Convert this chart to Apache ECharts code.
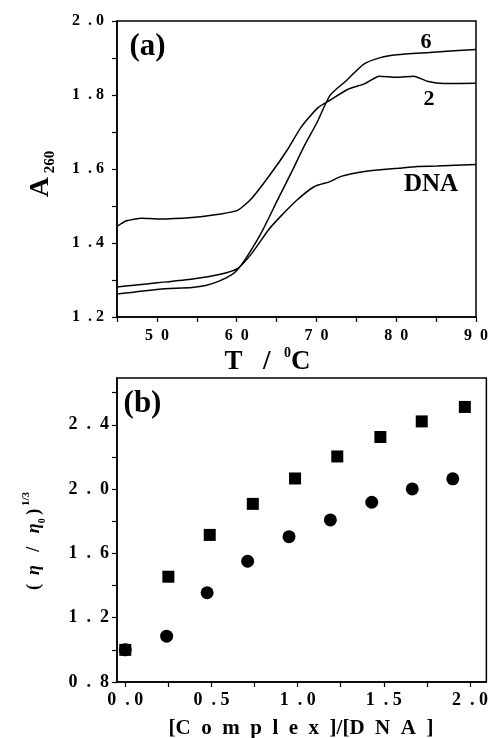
<!DOCTYPE html>
<html>
<head>
<meta charset="utf-8">
<script src="https://cdn.jsdelivr.net/npm/echarts@6/dist/echarts.min.js"></script>
<style>
html,body{margin:0;padding:0;background:#fff;}
#c{width:491px;height:738px;}
</style>
</head>
<body>
<div id="c"></div>
<script>
// ---- Panel (a): melting curves, A260 vs T (°C) ----
var T2 = [45, 46.2, 48.1, 50.2, 54.4, 57.8, 60.1, 61.9, 64.2, 66.3, 68.1, 70.2, 71.7, 73.9, 76, 77.9, 80.1, 82.2, 83.9, 86, 90];
var A2 = [1.445, 1.46, 1.467, 1.465, 1.469, 1.478, 1.488, 1.521, 1.585, 1.65, 1.714, 1.766, 1.786, 1.815, 1.83, 1.851, 1.848, 1.851, 1.837, 1.831, 1.832];
var T6 = [45, 47.1, 50.3, 54.4, 56.1, 57.8, 59.3, 60.1, 61.2, 63.1, 65.1, 66.8, 68.4, 70.1, 71.7, 73.8, 75.9, 78, 80.1, 84.2, 86.8, 90];
var A6 = [1.262, 1.267, 1.275, 1.280, 1.285, 1.297, 1.313, 1.328, 1.36, 1.428, 1.515, 1.588, 1.659, 1.727, 1.799, 1.84, 1.883, 1.901, 1.909, 1.915, 1.919, 1.923];
var TD = [45, 47.1, 50.3, 54.5, 57.8, 60.1, 61.9, 64, 65.6, 67.5, 69.7, 71.7, 73.1, 76, 78, 80.2, 82.6, 85.1, 90];
var AD = [1.281, 1.286, 1.293, 1.303, 1.315, 1.331, 1.372, 1.436, 1.474, 1.515, 1.552, 1.566, 1.58, 1.593, 1.598, 1.602, 1.607, 1.608, 1.612];
var curveNames = ['2', '6', 'DNA'];

// ---- Panel (b): viscosity (eta/eta0)^(1/3) vs [Complex]/[DNA] ----
var sqX = [0, 0.25, 0.49, 0.74, 0.985, 1.23, 1.48, 1.72, 1.97];
var sqY = [1.0, 1.455, 1.715, 1.908, 2.066, 2.203, 2.324, 2.421, 2.511];
var ciX = [0, 0.24, 0.475, 0.71, 0.95, 1.19, 1.43, 1.665, 1.9];
var ciY = [1.0, 1.085, 1.355, 1.551, 1.704, 1.808, 1.918, 2.001, 2.064];

// tick labels
var bXLabels = [0, 0.5, 1.0, 1.5, 2.0];
var bXTicks = [0, 0.25, 0.5, 0.75, 1.0, 1.25, 1.5, 1.75, 2.0];
var bYLabels = [0.8, 1.2, 1.6, 2.0, 2.4];
var bYTicks = [0.8, 1.0, 1.2, 1.4, 1.6, 1.8, 2.0, 2.2, 2.4, 2.6];

function zip(xs, ys){ return xs.map(function(x,i){ return [x, ys[i]]; }); }

var FONT = "'Liberation Serif', 'DejaVu Serif', serif";
var chart = echarts.init(document.getElementById('c'), null, {renderer:'canvas'});

var axisLineStyle = {show:true, onZero:false, lineStyle:{color:'#000', width:1.5}};

var option = {
  animation:false,
  backgroundColor:'#fff',
  grid:[
    {left:117, right:11.7, top:21, height:296, show:true, borderColor:'#000', borderWidth:1.5, backgroundColor:'transparent'},
    {left:117, right:3, top:378, height:304, show:true, borderColor:'#000', borderWidth:1.5, backgroundColor:'transparent'}
  ],
  xAxis:[
    {type:'value', gridIndex:0, min:45, max:90, interval:5,
     axisLine:axisLineStyle, splitLine:{show:false},
     axisTick:{show:true, inside:false, length:5, lineStyle:{color:'#000', width:1.2}},
     axisLabel:{margin:11, color:'#000', fontFamily:FONT, fontWeight:'bold', fontSize:16,
       showMinLabel:true, showMaxLabel:true,
       formatter:function(v){ return (Math.round(v)%10===0) ? String(Math.round(v)).split('').join('\u2002') : ''; }}
    },
    {type:'value', gridIndex:1, min:-0.048, max:2.095,
     axisLine:axisLineStyle, splitLine:{show:false},
     axisTick:{show:true, inside:false, length:5, customValues:bXTicks, lineStyle:{color:'#000', width:1.2}},
     axisLabel:{margin:9, color:'#000', fontFamily:FONT, fontWeight:'bold', fontSize:18, customValues:bXLabels,
       formatter:function(v){ var s=v.toFixed(1); return s.charAt(0)+'\u2002. '+s.charAt(2); }}
    }
  ],
  yAxis:[
    {type:'value', gridIndex:0, min:1.2, max:2.0, interval:0.1,
     axisLine:axisLineStyle, splitLine:{show:false},
     axisTick:{show:true, inside:false, length:5, lineStyle:{color:'#000', width:1.2}},
     axisLabel:{margin:13, color:'#000', fontFamily:FONT, fontWeight:'bold', fontSize:16,
       formatter:function(v){ var k=Math.round(v*10); if(k%2!==0) return ''; var s=(k/10).toFixed(1); return s.charAt(0)+'\u2002. '+s.charAt(2); }}
    },
    {type:'value', gridIndex:1, min:0.8, max:2.691,
     axisLine:axisLineStyle, splitLine:{show:false},
     axisTick:{show:true, inside:false, length:5, customValues:bYTicks, lineStyle:{color:'#000', width:1.2}},
     axisLabel:{margin:8, color:'#000', fontFamily:FONT, fontWeight:'bold', fontSize:18, customValues:bYLabels,
       formatter:function(v){ var s=v.toFixed(1); return s.charAt(0)+'\u2002.\u2002'+s.charAt(2); }}
    }
  ],
  series:[
    {name:curveNames[0], type:'line', xAxisIndex:0, yAxisIndex:0, data:zip(T2,A2), showSymbol:false, symbol:'none', smooth:0.2, lineStyle:{color:'#000', width:1.5}},
    {name:curveNames[1], type:'line', xAxisIndex:0, yAxisIndex:0, data:zip(T6,A6), showSymbol:false, symbol:'none', smooth:0.2, lineStyle:{color:'#000', width:1.5}},
    {name:curveNames[2], type:'line', xAxisIndex:0, yAxisIndex:0, data:zip(TD,AD), showSymbol:false, symbol:'none', smooth:0.2, lineStyle:{color:'#000', width:1.5}},
    {name:'circles', type:'scatter', xAxisIndex:1, yAxisIndex:1, data:zip(ciX,ciY), symbol:'circle', symbolSize:13, itemStyle:{color:'#000', opacity:1}, z:2},
    {name:'squares', type:'scatter', xAxisIndex:1, yAxisIndex:1, data:zip(sqX,sqY), symbol:'rect', symbolSize:12, itemStyle:{color:'#000', opacity:1}, z:3}
  ],
  graphic:[
    {type:'text', x:147.5, y:47, style:{text:'(a)', font:'bold 31px '+FONT, fill:'#000', align:'center', verticalAlign:'middle'}},
    {type:'text', x:142.5, y:404, style:{text:'(b)', font:'bold 31px '+FONT, fill:'#000', align:'center', verticalAlign:'middle'}},
    {type:'text', x:426, y:42, style:{text:curveNames[1], font:'bold 22px '+FONT, fill:'#000', align:'center', verticalAlign:'middle'}},
    {type:'text', x:429, y:99, style:{text:curveNames[0], font:'bold 22px '+FONT, fill:'#000', align:'center', verticalAlign:'middle'}},
    {type:'text', x:431, y:185, style:{text:curveNames[2], font:'bold 25px '+FONT, fill:'#000', align:'center', verticalAlign:'middle'}},
    // y name (a): A_260
    {type:'text', x:41, y:174, rotation:Math.PI/2, style:{
      text:'{a|A}{s| 260}', align:'center', verticalAlign:'middle', fill:'#000',
      rich:{a:{fontSize:28, fontFamily:FONT, fontWeight:'bold', lineHeight:34, fill:'#000'},
            s:{fontSize:15, fontFamily:FONT, fontWeight:'bold', lineHeight:15, verticalAlign:'bottom', fill:'#000'}}}},
    // x name (a): T / 0C
    {type:'text', x:267.5, y:362, style:{
      text:'{m|T   /  }{p|0}{m|C}', align:'center', verticalAlign:'middle', fill:'#000',
      rich:{m:{fontSize:27, fontFamily:FONT, fontWeight:'bold', lineHeight:32, fill:'#000'},
            p:{fontSize:14, fontFamily:FONT, fontWeight:'bold', lineHeight:14, verticalAlign:'top', fill:'#000'}}}},
    // y name (b): (eta/eta0)^(1/3)
    {type:'text', x:34, y:541, rotation:Math.PI/2, style:{
      text:'{m|(\u2002}{e|\u03b7}{m| \u2002/\u2002 }{e|\u03b7}{b|0}{m|\u2009)}{p| 1/3}', align:'center', verticalAlign:'middle', fill:'#000',
      rich:{m:{fontSize:18, fontFamily:FONT, fontWeight:'bold', lineHeight:26, fill:'#000'},
            e:{fontSize:18, fontFamily:FONT, fontWeight:'bold', fontStyle:'italic', lineHeight:26, fill:'#000'},
            b:{fontSize:10, fontFamily:FONT, fontWeight:'bold', lineHeight:10, verticalAlign:'bottom', fill:'#000'},
            p:{fontSize:11, fontFamily:FONT, fontWeight:'bold', lineHeight:11, verticalAlign:'top', fill:'#000'}}}},
    // x name (b)
    {type:'text', x:301, y:729, style:{
      text:'[C\u2002o\u2002m\u2002p\u2002l\u2002e\u2002x\u2002]/[D\u2002N\u2002A\u2002]', font:'bold 21px '+FONT, fill:'#000', align:'center', verticalAlign:'middle'}}
  ]
};
chart.setOption(option);
</script>
</body>
</html>
